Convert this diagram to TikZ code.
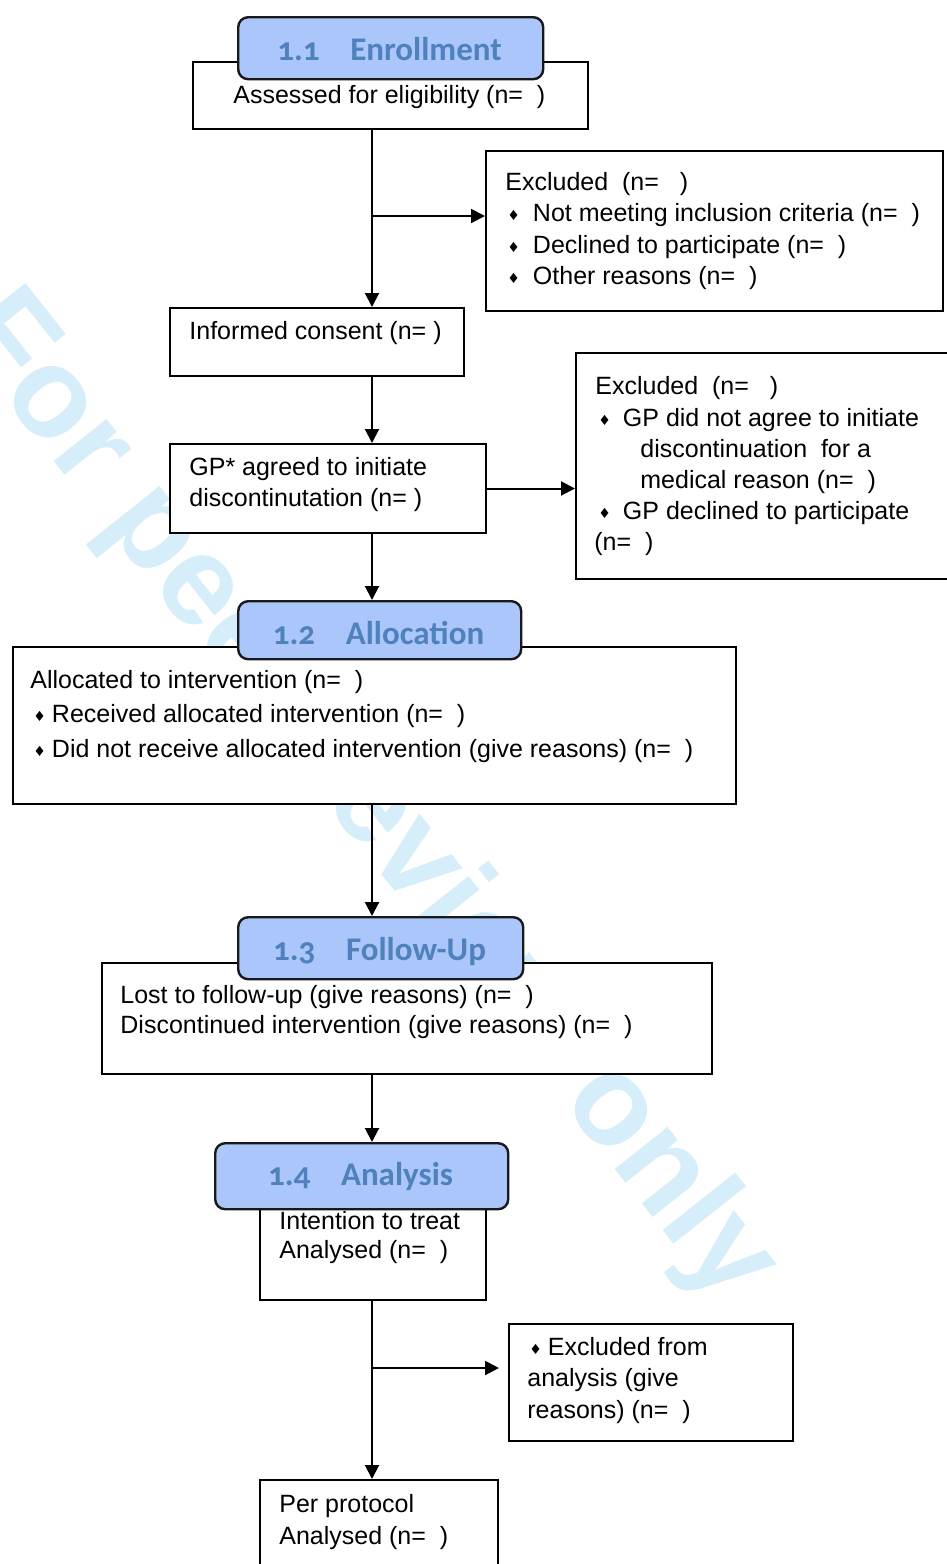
\documentclass[tikz,border=0pt]{standalone}
\usepackage{fontspec}
\setmainfont{Liberation Sans}
\newfontfamily\tabfont[Numbers=OldStyle]{Carlito}
\newfontfamily\symfont{DejaVu Sans}
\newfontfamily\markfont{Liberation Sans}
\usetikzlibrary{arrows.meta}
\definecolor{tabfill}{RGB}{170,198,250}
\definecolor{tabtext}{RGB}{79,129,189}
\definecolor{wmark}{RGB}{214,238,250}
% small black diamond used as list bullet
\newcommand\bul{\raisebox{0.5pt}{\symfont\fontsize{7pt}{7pt}\selectfont\char"2666}}
\begin{document}
\begin{tikzpicture}[x=0.5pt,y=-0.5pt,
  box/.style={draw=black, line width=1pt, fill=white, anchor=north west, inner sep=0pt},
  tab/.style={draw=black!90, line width=1.2pt, fill=tabfill, rounded corners=5pt, anchor=north west, inner sep=0pt},
  tabtxt/.style={anchor=base, inner sep=0pt, text=tabtext, font=\tabfont\bfseries\fontsize{16.5pt}{18pt}\selectfont},
  txt/.style={anchor=base west, inner sep=0pt, font=\fontsize{12.5pt}{15pt}\selectfont},
  link/.style={line width=1pt, -{Triangle[length=7pt,width=7pt]}},
]
\useasboundingbox (0,0) rectangle (947,1564);

% background watermark
\node[anchor=base, inner sep=0pt, rotate=-51.6, text=wmark,
      font=\markfont\bfseries\fontsize{64pt}{64pt}\selectfont] (mark) at (337.7,819.4) {For peer review only};

% boxes
\node[box, minimum width=197.5pt, minimum height=33.5pt] (assess) at (192,61) {};
\node[box, minimum width=228.5pt, minimum height=80pt]   (ex1)    at (485,150) {};
\node[box, minimum width=147pt,   minimum height=34pt]   (ic)     at (169,307) {};
\node[box, minimum width=158pt,   minimum height=44.5pt] (gp)     at (169,443) {};
\node[box, minimum width=192.5pt, minimum height=113pt]  (ex2)    at (575,352) {};
\node[box, minimum width=361.5pt, minimum height=78.5pt] (alloc)  at (12,646) {};
\node[box, minimum width=305pt,   minimum height=55.5pt] (follow) at (101,962) {};
\node[box, minimum width=113pt,   minimum height=49.5pt] (ana)    at (259,1200) {};
\node[box, minimum width=142pt,   minimum height=58.5pt] (exa)    at (508,1323) {};
\node[box, minimum width=119pt,   minimum height=55.5pt] (per)    at (259,1479) {};

% stage tabs
\node[tab, minimum width=152.5pt, minimum height=31pt] (tab1) at (237,16) {};
\node[tab, minimum width=141.5pt, minimum height=29pt] (tab2) at (237,600) {};
\node[tab, minimum width=142.5pt, minimum height=31pt] (tab3) at (237,916) {};
\node[tab, minimum width=146.5pt, minimum height=33pt] (tab4) at (214,1142) {};
\node[tabtxt] (t1) at (389.5,60)  {\makebox[36.5pt][l]{1.1}Enrollment};
\node[tabtxt] (t2) at (378.5,644) {\makebox[36.5pt][l]{1.2}Allocation};
\node[tabtxt] (t3) at (379.5,960) {\makebox[36.5pt][l]{1.3}Follow-Up};
\node[tabtxt] (t4) at (360.5,1185){\makebox[36.5pt][l]{1.4}Analysis};

% box texts
\node[txt] (assessA) at (233,103) {Assessed for eligibility (n=~~)};

\node[txt] (ex1A) at (505,190) {Excluded~~(n=~~~)};
\node[txt] (ex1B) at (507,221) {\bul\hspace{6.5pt}Not meeting inclusion criteria (n=~~)};
\node[txt] (ex1C) at (507,253) {\bul\hspace{6.5pt}Declined to participate (n=~~)};
\node[txt] (ex1D) at (507,284) {\bul\hspace{6.5pt}Other reasons (n=~~)};

\node[txt] (icA) at (189,339) {Informed consent (n= )};

\node[txt] (gpA) at (189,475) {GP* agreed to initiate};
\node[txt] (gpB) at (189,506) {discontinutation (n= )};

\node[txt] (ex2A) at (595,394) {Excluded~~(n=~~~)};
\node[txt] (ex2B) at (598,426) {\bul\hspace{6pt}GP did not agree to initiate};
\node[txt] (ex2C) at (640,457) {discontinuation~~for a};
\node[txt] (ex2D) at (640,488) {medical reason (n=~~)};
\node[txt] (ex2E) at (598,519) {\bul\hspace{6pt}GP declined to participate};
\node[txt] (ex2F) at (594,550) {(n=~~)};

\node[txt] (allocA) at (30,688) {Allocated to intervention (n=~~)};
\node[txt] (allocB) at (33,722) {\bul\hspace{3pt}Received allocated intervention (n=~~)};
\node[txt] (allocC) at (33,757) {\bul\hspace{3pt}Did not receive allocated intervention (give reasons) (n=~~)};

\node[txt] (followA) at (120,1003) {Lost to follow-up (give reasons) (n=~~)};
\node[txt] (followB) at (120,1033) {Discontinued intervention (give reasons) (n=~~)};

\node[txt] (anaA) at (279,1229) {Intention to treat};
\node[txt] (anaB) at (279,1258) {Analysed (n=~~)};

\node[txt] (exaA) at (529,1355) {\bul\hspace{3pt}Excluded from};
\node[txt] (exaB) at (527,1386) {analysis (give};
\node[txt] (exaC) at (527,1418) {reasons) (n=~~)};

\node[txt] (perA) at (279,1512) {Per protocol};
\node[txt] (perB) at (279,1544) {Analysed (n=~~)};

% connectors
\coordinate (spine) at (372,0);
\coordinate (b1) at (372,216);
\coordinate (b2) at (372,1368);
\draw[link] (spine |- assess.south) -- (spine |- ic.north);
\draw[link] (b1) -- (b1 -| ex1.west);
\draw[link] (spine |- ic.south) -- (spine |- gp.north);
\draw[link] (gp.east) -- (gp.east -| ex2.west);
\draw[link] (spine |- gp.south) -- (spine |- tab2.north);
\draw[link] (spine |- alloc.south) -- (spine |- tab3.north);
\draw[link] (spine |- follow.south) -- (spine |- tab4.north);
\draw[link] (spine |- ana.south) -- (spine |- per.north);
\draw[link, shorten >=4.5pt] (b2) -- (b2 -| exa.west);
\end{tikzpicture}
\end{document}
